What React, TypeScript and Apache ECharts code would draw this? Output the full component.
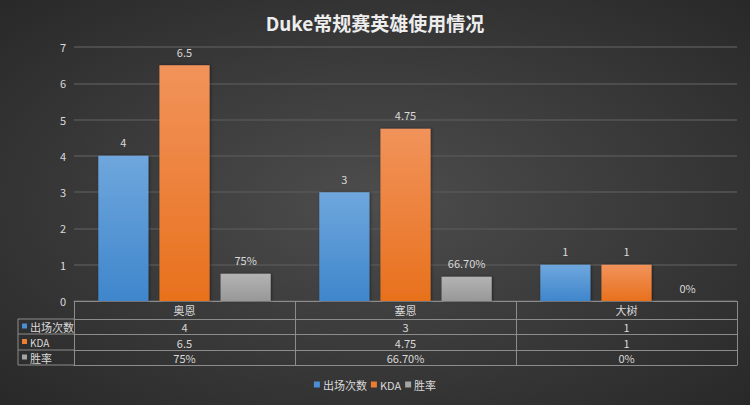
import React, { useEffect, useRef } from "react";
import * as echarts from "echarts";

const title = "Duke常规赛英雄使用情况";
const heroes = ["奥恩", "塞恩", "大树"];
const seriesNames = ["出场次数", "KDA", "胜率"];
const appearances = [4, 3, 1];
const kda = [6.5, 4.75, 1];
const winRate = [0.75, 0.667, 0];
const winRateText = ["75%", "66.70%", "0%"];
const yTicks = [0, 1, 2, 3, 4, 5, 6, 7];

const legendColors = ["#4a8fd4", "#ed7d31", "#a5a5a5"];
const barGradients = [
  ["#6fa7dd", "#3f86cc"],
  ["#f1935b", "#e8711d"],
  ["#b3b3b3", "#989898"],
];

export default function App() {
  const ref = useRef<HTMLDivElement>(null);
  useEffect(() => {
    if (!ref.current) return;
    const chart = echarts.init(ref.current, undefined, { renderer: "svg" });
    const H = 405;
    const gridLeft = 74, gridRight = 13, gridTop = 47, gridBottom = 104;
    const axisY = H - gridBottom; // 301
    const rowLines = [axisY + 18, axisY + 33, axisY + 49, axisY + 64];
    const tableLeft = 18;
    const lineColor = "#8c8c8c";
    const textColor = "#d9d9d9";
    const font = "'Noto Sans CJK SC', 'Noto Sans', sans-serif";

    const grad = (c: string[]) =>
      new echarts.graphic.LinearGradient(0, 0, 0, 1, [
        { offset: 0, color: c[0] },
        { offset: 1, color: c[1] },
      ]);

    const seriesData = [appearances, kda, winRate];
    const series = seriesData.map((d, i) => ({
      name: seriesNames[i],
      type: "bar",
      xAxisIndex: 0,
      data: d,
      barGap: "22%",
      barCategoryGap: "22%",
      itemStyle: {
        color: grad(barGradients[i]),
        shadowColor: "rgba(0,0,0,0.45)",
        shadowBlur: 3,
        shadowOffsetX: 1,
        shadowOffsetY: 0,
      },
      label: {
        show: true,
        position: "top",
        distance: 8,
        color: textColor,
        fontSize: 11,
        fontFamily: font,
        formatter: (p: any) =>
          i === 2 ? winRateText[p.dataIndex] : String(p.value),
      },
    }));

    const rowAxis = (data: (string | number)[], offset: number, tickLen: number, margin: number, showLabel = true, showTick = true) => ({
      type: "category",
      gridIndex: 0,
      position: "bottom",
      offset,
      data,
      axisLine: { show: true, lineStyle: { color: lineColor, width: 1 } },
      axisTick: { show: showTick, length: tickLen, lineStyle: { color: lineColor, width: 1 } },
      axisLabel: { show: showLabel, color: textColor, fontSize: 11, margin, fontFamily: font },
      splitLine: { show: false },
    });

    const graphics: any[] = [];
    rowLines.forEach((y) => {
      graphics.push({
        type: "line",
        shape: { x1: tableLeft, y1: y, x2: gridLeft, y2: y },
        style: { stroke: lineColor, lineWidth: 1 },
        silent: true,
      });
    });
    graphics.push({
      type: "line",
      shape: { x1: tableLeft, y1: rowLines[0], x2: tableLeft, y2: rowLines[3] },
      style: { stroke: lineColor, lineWidth: 1 },
      silent: true,
    });
    seriesNames.forEach((n, i) => {
      const yMid = (rowLines[i] + rowLines[i + 1]) / 2;
      graphics.push({
        type: "rect",
        shape: { x: 22, y: yMid - 3, width: 5, height: 5 },
        style: { fill: legendColors[i] },
        silent: true,
      });
      graphics.push({
        type: "text",
        x: 30,
        y: yMid,
        style: {
          text: n,
          fill: textColor,
          fontSize: i === 1 ? 10 : 11,
          fontFamily: font,
          verticalAlign: "middle",
          align: "left",
        },
        silent: true,
      });
    });

    chart.setOption({
      animation: false,
      backgroundColor: {
        type: "radial",
        x: 0.5,
        y: 0.5,
        r: 0.75,
        colorStops: [
          { offset: 0, color: "#4d4d4d" },
          { offset: 1, color: "#262626" },
        ],
      },
      title: {
        text: title,
        left: "center",
        top: 8,
        textStyle: {
          color: "#ededed",
          fontSize: 19,
          fontWeight: "bold",
          fontFamily: font,
        },
      },
      legend: {
        bottom: 10,
        left: "center",
        icon: "rect",
        itemWidth: 6,
        itemHeight: 6,
        itemGap: 4,
        textStyle: { color: textColor, fontSize: 11, fontFamily: font, padding: [0, 0, 0, -2] },
        data: seriesNames.map((n, i) => ({ name: n, itemStyle: { color: legendColors[i] } })),
      },
      grid: { left: gridLeft, right: gridRight, top: gridTop, bottom: gridBottom, containLabel: false },
      xAxis: [
        rowAxis(heroes, 0, 18, 3),
        rowAxis(appearances, 18, 15, 2),
        rowAxis(kda, 33, 16, 3),
        rowAxis(winRateText, 49, 15, 2),
        rowAxis(heroes, 64, 0, 0, false, false),
      ],
      yAxis: {
        type: "value",
        min: yTicks[0],
        max: yTicks[yTicks.length - 1],
        interval: 1,
        axisLine: { show: false },
        axisTick: { show: false },
        axisLabel: { color: textColor, fontSize: 11, margin: 8, fontFamily: font },
        splitLine: { lineStyle: { color: "#565656", width: 1.5 } },
      },
      series,
      graphic: graphics,
    });
    return () => chart.dispose();
  }, []);
  return (
    <div
      ref={ref}
      style={{ position: "absolute", left: 0, top: 0, width: 750, height: 405 }}
    />
  );
}
